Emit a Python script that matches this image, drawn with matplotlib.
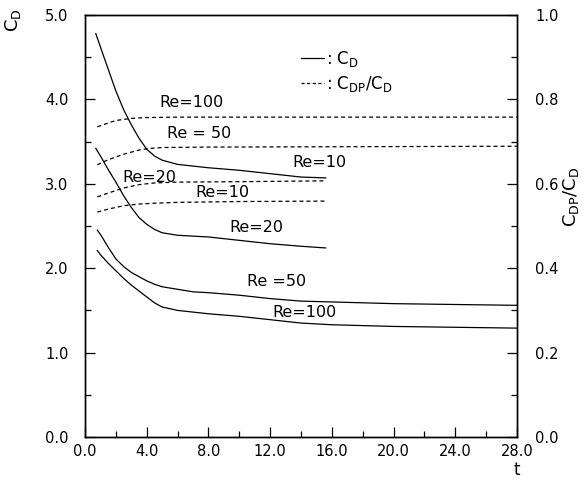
import matplotlib
matplotlib.use("Agg")
import matplotlib.pyplot as plt
from matplotlib.ticker import MultipleLocator, FormatStrFormatter
from matplotlib.lines import Line2D

plt.rcParams['font.family'] = ['DejaVu Sans']
plt.rcParams['mathtext.default'] = 'regular'

# ---- data: drag coefficient C_D (left axis) ----
t_short = [0.7, 1.0, 1.5, 2.0, 2.5, 3.0, 3.5, 4.0, 4.5, 5.0, 6.0, 7.0, 8.0, 10.0, 12.0, 14.0, 15.6]
cd_re10 = [4.78, 4.62, 4.36, 4.10, 3.88, 3.70, 3.54, 3.41, 3.33, 3.28, 3.23, 3.21, 3.19, 3.16, 3.12, 3.08, 3.07]
cd_re20 = [3.42, 3.33, 3.17, 3.02, 2.86, 2.72, 2.60, 2.52, 2.46, 2.42, 2.39, 2.38, 2.37, 2.33, 2.29, 2.26, 2.24]

t_long = [0.8, 1.0, 1.5, 2.0, 2.5, 3.0, 3.5, 4.0, 4.5, 5.0, 6.0, 7.0, 8.0, 10.0, 12.0, 14.0, 16.0, 20.0, 24.0, 28.0]
cd_re50 = [2.45, 2.40, 2.25, 2.11, 2.02, 1.95, 1.90, 1.85, 1.81, 1.78, 1.75, 1.72, 1.71, 1.68, 1.64, 1.61, 1.60, 1.58, 1.57, 1.56]
cd_re100 = [2.21, 2.16, 2.06, 1.97, 1.88, 1.80, 1.73, 1.66, 1.59, 1.54, 1.50, 1.48, 1.46, 1.43, 1.39, 1.35, 1.33, 1.31, 1.30, 1.29]

# ---- data: pressure drag ratio C_DP/C_D (right axis) ----
t_r100 = [0.8, 1.5, 2.0, 3.0, 4.0, 6.0, 10.0, 28.0]
r_re100 = [0.735, 0.744, 0.750, 0.755, 0.757, 0.758, 0.758, 0.758]
t_r50 = [0.8, 1.5, 2.5, 3.5, 4.0, 5.0, 8.0, 28.0]
r_re50 = [0.645, 0.657, 0.670, 0.680, 0.683, 0.686, 0.687, 0.689]
t_r_short = [0.8, 1.5, 2.5, 3.5, 4.5, 6.0, 10.0, 15.6]
r_re20 = [0.569, 0.578, 0.590, 0.598, 0.602, 0.604, 0.605, 0.607]
r_re10 = [0.533, 0.540, 0.548, 0.552, 0.554, 0.556, 0.558, 0.559]

x_ticks = [0.0, 4.0, 8.0, 12.0, 16.0, 20.0, 24.0, 28.0]
left_ticks = [0.0, 1.0, 2.0, 3.0, 4.0, 5.0]
right_ticks = [0.0, 0.2, 0.4, 0.6, 0.8, 1.0]

# label annotations: (text, t, C_D position)
labels = [
    ("Re=100", 6.9, 3.96),
    ("Re = 50", 7.4, 3.60),
    ("Re=20", 4.2, 3.07),
    ("Re=10", 8.9, 2.90),
    ("Re=10", 15.2, 3.25),
    ("Re=20", 11.1, 2.48),
    ("Re =50", 12.4, 1.84),
    ("Re=100", 14.2, 1.47),
]

W, H = 584, 482
fig = plt.figure(figsize=(W / 100, H / 100), dpi=100)
ax = fig.add_axes([85 / W, 1 - 437 / H, 432 / W, 422 / H])
ax2 = ax.twinx()

lw = 0.9
dash = (0, (3.2, 2.4))
for y in (cd_re10, cd_re20):
    ax.plot(t_short, y, color='black', lw=lw)
for y in (cd_re50, cd_re100):
    ax.plot(t_long, y, color='black', lw=lw)

ax2.plot(t_r100, r_re100, color='black', lw=lw, ls=dash)
ax2.plot(t_r50, r_re50, color='black', lw=lw, ls=dash)
ax2.plot(t_r_short, r_re20, color='black', lw=lw, ls=dash)
ax2.plot(t_r_short, r_re10, color='black', lw=lw, ls=dash)

ax.set_xlim(0, 28)
ax.set_ylim(0, 5)
ax2.set_ylim(0, 1)

ax.set_xticks(x_ticks)
ax.set_yticks(left_ticks)
ax2.set_yticks(right_ticks)
ax.xaxis.set_minor_locator(MultipleLocator(2))
ax.yaxis.set_minor_locator(MultipleLocator(0.5))
ax2.yaxis.set_minor_locator(MultipleLocator(0.1))
ax.xaxis.set_major_formatter(FormatStrFormatter('%.1f'))
ax.yaxis.set_major_formatter(FormatStrFormatter('%.1f'))
ax2.yaxis.set_major_formatter(FormatStrFormatter('%.1f'))

ax.tick_params(axis='both', which='both', direction='in', top=False, right=False,
               labelsize=10.5, width=0.9)
ax.tick_params(which='major', length=7)
ax.tick_params(which='minor', length=4)
ax.tick_params(axis='y', pad=12)
ax.tick_params(axis='x', pad=5)
ax2.tick_params(axis='y', which='both', direction='in', labelsize=10.5, width=0.9, pad=13)
ax2.tick_params(which='major', length=7)
ax2.tick_params(which='minor', length=4)

for a in (ax, ax2):
    for s in a.spines.values():
        s.set_linewidth(1.0)

for txt, tx, ty in labels:
    ax.text(tx, ty, txt, ha='center', va='center', fontsize=11.5)

handles = [Line2D([], [], color='black', lw=lw),
           Line2D([], [], color='black', lw=lw, ls=(0, (2.5, 2)))]
leg = ax.legend(handles, [': $C_D$', ': $C_{DP}/C_D$'], loc='upper left',
                bbox_to_anchor=(0.50, 0.92), frameon=False, fontsize=12,
                handlelength=1.4, handletextpad=0.1, labelspacing=0.3,
                borderaxespad=0, borderpad=0)

fig.text(13 / W, 1 - 20 / H, '$C_D$', rotation=90, ha='center', va='center', fontsize=13)
fig.text(571 / W, 1 - 197 / H, '$C_{DP}/C_D$', rotation=90, ha='center', va='center', fontsize=13)
fig.text(517 / W, 1 - 470 / H, 't', ha='center', va='center', fontsize=12)

fig.savefig('out.png', dpi=100)
